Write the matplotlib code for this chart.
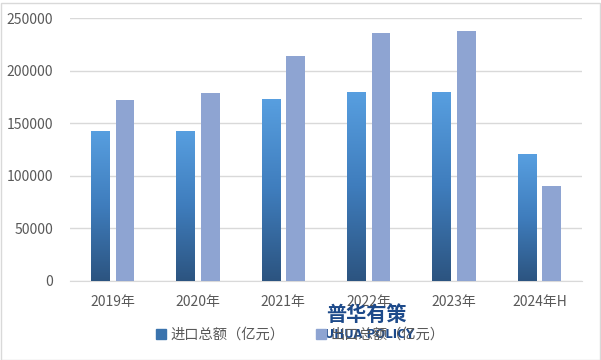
import numpy as np
import matplotlib
matplotlib.use("Agg")
import matplotlib.pyplot as plt
from matplotlib.colors import LinearSegmentedColormap
from matplotlib.patches import Rectangle

plt.rcParams['font.family'] = ['Noto Sans CJK SC', 'DejaVu Sans']

categories = ['2019年', '2020年', '2021年', '2022年', '2023年', '2024年H']
imports = [142800, 142800, 173200, 179800, 179800, 120700]
exports = [172200, 178900, 214100, 236000, 237800, 90300]
series_names = ['进口总额（亿元）', '出口总额（亿元）']
yticks = [0, 50000, 100000, 150000, 200000, 250000]

fig = plt.figure(figsize=(6.01, 3.60), dpi=100)
ax = fig.add_axes([70/601, 1 - 281/360, 512/601, 263/360])

x = np.arange(len(categories))
w = 0.22
off = 0.145
grad = LinearSegmentedColormap.from_list('g', ['#2c5480', '#3f7dbd', '#589fe0'])

bars_imp = ax.bar(x - off, imports, w, color='none', edgecolor='none', label=series_names[0], zorder=3)
for b in bars_imp:
    bx = b.get_x()
    bw = b.get_width()
    im = ax.imshow(np.linspace(0, 1, 256).reshape(-1, 1), cmap=grad, origin='lower',
                   extent=[bx, bx + bw, 0, b.get_height()], aspect='auto', zorder=3)
    im.set_clip_path(b)
bars_exp = ax.bar(x + off, exports, w, color='#8ea4d2', label=series_names[1], zorder=3)

ax.set_xlim(-0.5, len(categories) - 0.5)
ax.set_ylim(0, 250000)
ax.set_yticks(yticks)
ax.set_yticklabels([str(v) for v in yticks])
ax.set_xticks(x)
ax.set_xticklabels(categories)
ax.yaxis.grid(True, color='#d9d9d9', linewidth=1, zorder=0)
ax.set_axisbelow(True)
for s in ['top', 'right', 'left']:
    ax.spines[s].set_visible(False)
ax.spines['bottom'].set_color('#d9d9d9')
ax.tick_params(axis='both', length=0, labelsize=10, colors='#595959')
ax.tick_params(axis='y', pad=12)
ax.tick_params(axis='x', pad=10)

# legend handles
h1 = Rectangle((0, 0), 1, 1, color='#3a73ad')
h2 = Rectangle((0, 0), 1, 1, color='#8ea4d2')
leg = fig.legend([h1, h2], series_names, loc='center', bbox_to_anchor=(0.5, 1 - 335/360),
                 ncol=2, frameon=False, fontsize=10.3, handlelength=0.7, handleheight=0.7,
                 handletextpad=0.3, columnspacing=2.2, labelcolor='#595959')

# watermark
fig.text(366/601, 1 - 314/360, '普华有策', ha='center', va='center', fontsize=14.5,
         fontweight='bold', color='#1d4a8a')
fig.text(365/601, 1 - 335/360, 'PUHUA POLICY', ha='center', va='center', fontsize=8.5,
         fontweight='bold', color='#1d4a8a', family=['DejaVu Sans'])

fig.patches.append(Rectangle((0.5/601, 0.5/360), 599/601, 357/360, transform=fig.transFigure,
                             fill=False, edgecolor='#d9d9d9', linewidth=1))

fig.savefig('out.png', dpi=100, facecolor='white')
